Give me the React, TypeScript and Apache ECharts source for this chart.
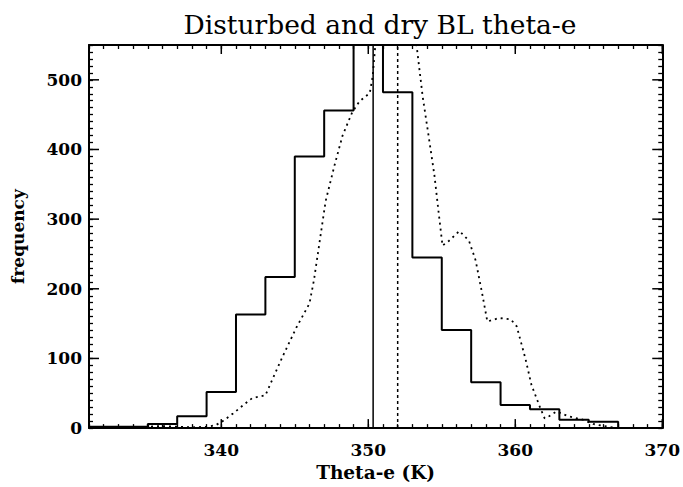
import React, { useEffect, useRef } from "react";
import * as echarts from "echarts";

// ---- data ----
const X_MIN = 331;
const X_MAX = 370;
const Y_MIN = 0;
const Y_MAX = 550;

const xMajorTicks = [340, 350, 360, 370];
const yMajorTicks = [0, 100, 200, 300, 400, 500];

// solid histogram: bin left edges (width 2 K) and counts
const binStarts = [331, 333, 335, 337, 339, 341, 343, 345, 347, 349, 351, 353, 355, 357, 359, 361, 363, 365, 367];
const solidCounts = [2, 2, 6, 17, 52, 163, 217, 390, 456, 640, 482, 245, 141, 66, 33, 27, 12, 9, 0];

// dotted distribution
const dottedX = [334, 335, 336, 337, 338, 339, 339.6, 340.1, 340.8, 341.5, 342.1, 343.0, 343.5, 344.2, 345.1, 346.0, 346.3, 346.7, 347.1, 347.7, 348.25, 348.9, 349.4, 350.1, 350.3, 350.6, 351.5, 352.5, 353.1, 353.3, 353.7, 354.1, 354.5, 354.8, 355.05, 355.5, 356.2, 356.85, 357.3, 357.75, 358.1, 358.9, 359.7, 360.1, 360.7, 361.1, 361.5, 361.7, 362.0, 362.3, 362.8, 363.6, 364.6, 365.3, 366.0, 367.0];
const dottedY = [0, 2, 3, 2, 1, 2, 4, 10, 21, 33, 43, 47, 71, 104, 144, 179, 212, 269, 326, 377, 420, 453, 469, 481, 505, 580, 640, 650, 580, 547, 476, 420, 363, 307, 262, 269, 283, 269, 241, 193, 153, 158, 156, 146, 99, 62, 40, 29, 14, 17, 24, 17, 12, 6, 3, 0];

// mean markers
const meanSolid = 350.33;
const meanDotted = 352.0;

const FONT = "'DejaVu Serif', 'Liberation Serif', serif";

export default function App() {
  const ref = useRef<HTMLDivElement>(null);

  useEffect(() => {
    if (!ref.current) return;
    const chart = echarts.init(ref.current, undefined, { renderer: "svg" });

    const axisCommon = {
      type: "value" as const,
      splitLine: { show: false },
      axisLine: { show: true, onZero: false, lineStyle: { color: "#000", width: 2 } },
      axisTick: { show: true, inside: true, length: 4, lineStyle: { color: "#000", width: 1.3 } },
    };

    const tickStyle = { stroke: "#000", lineWidth: 1.5 };

    chart.setOption({
      animation: false,
      backgroundColor: "#fff",
      grid: { left: 89, right: 18, top: 45, bottom: 53, containLabel: false },
      graphic: [
        {
          type: "text",
          x: 380,
          y: 24,
          style: {
            text: "Disturbed and dry BL theta-e",
            font: `500 26.5px ${FONT}`,
            fill: "#000",
            textAlign: "center",
            textVerticalAlign: "middle",
          },
        },
      ],
      xAxis: [
        {
          ...axisCommon,
          position: "bottom",
          min: X_MIN,
          max: X_MAX,
          interval: 1,
          name: "Theta-e (K)",
          nameLocation: "middle",
          nameGap: 30,
          nameTextStyle: { fontFamily: FONT, fontWeight: "bold", fontSize: 18.5, color: "#000" },
          axisLabel: {
            margin: 13,
            fontFamily: FONT,
            fontWeight: "bold",
            fontSize: 17,
            color: "#000",
            formatter: (v: number) => (v % 10 === 0 ? String(v) : ""),
          },
        },
        {
          ...axisCommon,
          position: "top",
          min: X_MIN,
          max: X_MAX,
          interval: 1,
          axisLabel: { show: false },
        },
      ],
      yAxis: [
        {
          ...axisCommon,
          position: "left",
          min: Y_MIN,
          max: Y_MAX,
          interval: 10,
          name: "frequency",
          nameLocation: "middle",
          nameRotate: 90,
          nameGap: 63,
          nameTextStyle: { fontFamily: FONT, fontWeight: "bold", fontSize: 17, color: "#000" },
          axisLabel: {
            margin: 7,
            fontFamily: FONT,
            fontWeight: "bold",
            fontSize: 17,
            color: "#000",
            formatter: (v: number) => (v % 100 === 0 ? String(v) : ""),
          },
        },
        {
          ...axisCommon,
          position: "right",
          min: Y_MIN,
          max: Y_MAX,
          interval: 10,
          axisLabel: { show: false },
        },
      ],
      series: [
        {
          type: "line",
          name: "solid",
          step: "end",
          data: binStarts.map((x, i) => [x, solidCounts[i]]),
          symbol: "none",
          lineStyle: { color: "#000", width: 2 },
          clip: true,
        },
        {
          type: "line",
          name: "dotted",
          data: dottedX.map((x, i) => [x, dottedY[i]]),
          symbol: "none",
          lineStyle: { color: "#000", width: 1.8, type: [2, 4] },
          clip: true,
        },
        {
          type: "line",
          name: "meanSolid",
          data: [
            [meanSolid, Y_MIN],
            [meanSolid, Y_MAX],
          ],
          symbol: "none",
          lineStyle: { color: "#000", width: 1.5 },
        },
        {
          type: "line",
          name: "meanDotted",
          data: [
            [meanDotted, Y_MIN],
            [meanDotted, Y_MAX],
          ],
          symbol: "none",
          lineStyle: { color: "#000", width: 1.5, type: [3, 3] },
        },
        {
          type: "custom",
          name: "xMajor",
          silent: true,
          clip: false,
          data: xMajorTicks.map((v) => [v, Y_MIN]),
          renderItem: (_p: any, api: any) => {
            const v = api.value(0);
            const b = api.coord([v, Y_MIN]);
            const t = api.coord([v, Y_MAX]);
            return {
              type: "group",
              children: [
                { type: "line", shape: { x1: b[0], y1: b[1], x2: b[0], y2: b[1] - 9 }, style: tickStyle },
                { type: "line", shape: { x1: t[0], y1: t[1], x2: t[0], y2: t[1] + 9 }, style: tickStyle },
              ],
            };
          },
        },
        {
          type: "custom",
          name: "yMajor",
          silent: true,
          clip: false,
          data: yMajorTicks.map((v) => [X_MIN, v]),
          renderItem: (_p: any, api: any) => {
            const v = api.value(1);
            const l = api.coord([X_MIN, v]);
            const r = api.coord([X_MAX, v]);
            return {
              type: "group",
              children: [
                { type: "line", shape: { x1: l[0], y1: l[1], x2: l[0] + 10, y2: l[1] }, style: tickStyle },
                { type: "line", shape: { x1: r[0], y1: r[1], x2: r[0] - 10, y2: r[1] }, style: tickStyle },
              ],
            };
          },
        },
      ],
    });

    return () => chart.dispose();
  }, []);

  return (
    <div
      ref={ref}
      style={{ position: "fixed", left: 0, top: 0, width: 683, height: 487, background: "#fff" }}
    />
  );
}
